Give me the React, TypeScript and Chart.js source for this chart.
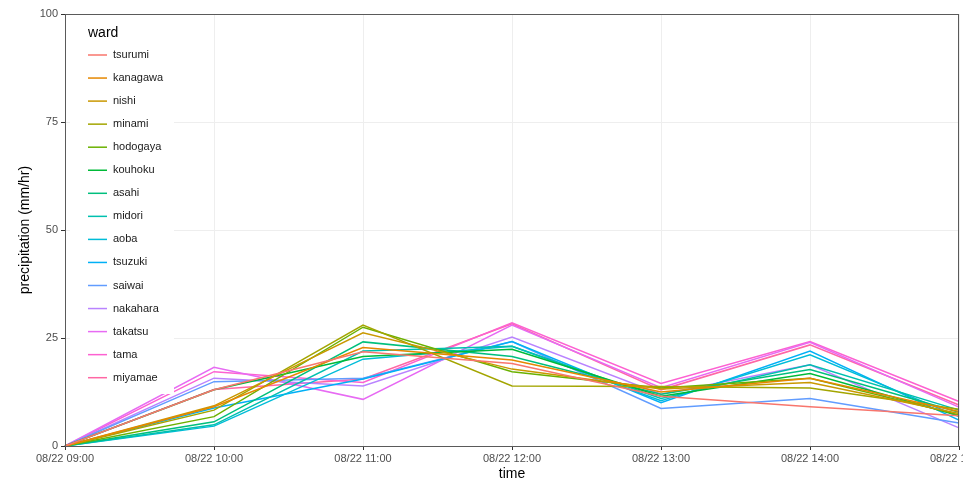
import React, { useEffect, useRef } from "react";
import { Chart, registerables } from "chart.js";

Chart.register(...registerables);

const times = [
  "08/22 09:00",
  "08/22 10:00",
  "08/22 11:00",
  "08/22 12:00",
  "08/22 13:00",
  "08/22 14:00",
  "08/22 15:00",
];

const wards = [
  "tsurumi", "kanagawa", "nishi", "minami", "hodogaya",
  "kouhoku", "asahi", "midori", "aoba", "tsuzuki",
  "saiwai", "nakahara", "takatsu", "tama", "miyamae",
];

const wardColors = [
  "#F8766D", "#E58700", "#C99800", "#A3A500", "#6BB100",
  "#00BA38", "#00BF7D", "#00C0AF", "#00BCD8", "#00B0F6",
  "#619CFF", "#B983FF", "#E76BF3", "#FD61D1", "#FF67A4",
];

// precipitation (mm/hr) per ward, one value per hour
const tsurumi = [0, 13.0, 21.8, 19.1, 11.5, 9.1, 7.0];
const kanagawa = [0, 9.1, 22.8, 19.9, 12.5, 15.7, 8.0];
const nishi = [0, 9.3, 26.2, 17.8, 13.2, 14.7, 7.5];
const minami = [0, 8.3, 28.0, 13.9, 13.8, 13.4, 8.5];
const hodogaya = [0, 6.8, 27.5, 17.2, 13.4, 15.7, 7.2];
const kouhoku = [0, 13.0, 20.7, 22.4, 11.5, 16.8, 7.0];
const asahi = [0, 5.6, 24.1, 20.7, 12.0, 17.7, 7.8];
const midori = [0, 4.9, 22.0, 23.1, 11.0, 18.8, 8.3];
const aoba = [0, 4.6, 20.1, 23.1, 10.5, 21.1, 6.8];
const tsuzuki = [0, 8.8, 15.5, 24.2, 10.0, 22.0, 6.0];
const saiwai = [0, 14.9, 15.7, 24.2, 8.7, 11.0, 5.3];
const nakahara = [0, 15.7, 13.9, 25.2, 12.0, 18.8, 4.2];
const takatsu = [0, 18.2, 10.8, 28.0, 13.5, 24.0, 9.0];
const tama = [0, 17.2, 14.7, 28.5, 14.5, 24.2, 10.3];
const miyamae = [0, 13.1, 15.5, 28.3, 13.0, 23.4, 9.5];

const wardValues = [
  tsurumi, kanagawa, nishi, minami, hodogaya,
  kouhoku, asahi, midori, aoba, tsuzuki,
  saiwai, nakahara, takatsu, tama, miyamae,
];

const yTicks = [0, 25, 50, 75, 100];

const FONT = "'Liberation Sans', Arial, Helvetica, sans-serif";

// Draws the panel frame, axis titles and the in-panel legend
const decorations = {
  id: "decorations",
  afterDraw(chart: any) {
    const { ctx, chartArea } = chart;
    const { left, right, top, bottom } = chartArea;
    ctx.save();

    // panel frame
    ctx.strokeStyle = "#5a5a5a";
    ctx.lineWidth = 1;
    ctx.strokeRect(left + 0.5, top + 0.5, right - left - 1, bottom - top);

    // legend box
    const lx = 70;
    const ly = 18;
    ctx.fillStyle = "#ffffff";
    ctx.fillRect(lx, ly, 104, 376);

    ctx.fillStyle = "#000000";
    ctx.font = `14px ${FONT}`;
    ctx.textBaseline = "middle";
    ctx.textAlign = "left";
    ctx.fillText("ward", 88, 33);

    ctx.font = `11px ${FONT}`;
    wards.forEach((name, i) => {
      const y = 55 + i * 23.05;
      ctx.strokeStyle = wardColors[i];
      ctx.lineWidth = 1.5;
      ctx.beginPath();
      ctx.moveTo(88, y);
      ctx.lineTo(107, y);
      ctx.stroke();
      ctx.fillStyle = "#1a1a1a";
      ctx.fillText(name, 113, y);
    });

    // axis titles
    ctx.fillStyle = "#000000";
    ctx.font = `14px ${FONT}`;
    ctx.textAlign = "center";
    ctx.fillText("time", (left + right) / 2, 474);

    ctx.translate(25, (top + bottom) / 2);
    ctx.rotate(-Math.PI / 2);
    ctx.fillText("precipitation (mm/hr)", 0, 0);
    ctx.restore();
  },
};

export default function App() {
  const canvasRef = useRef<HTMLCanvasElement | null>(null);

  useEffect(() => {
    document.body.style.margin = "0";
    const canvas = canvasRef.current;
    if (!canvas) return;

    const chart = new Chart(canvas, {
      type: "line",
      data: {
        labels: times,
        datasets: wards.map((name, i) => ({
          label: name,
          data: wardValues[i],
          borderColor: wardColors[i],
          backgroundColor: wardColors[i],
          borderWidth: 1.5,
          pointRadius: 0,
          tension: 0,
          fill: false,
        })),
      },
      options: {
        responsive: false,
        animation: false,
        layout: { padding: { top: 14, right: 4, left: 0, bottom: 0 } },
        plugins: {
          legend: { display: false },
          tooltip: { enabled: false },
        },
        scales: {
          x: {
            type: "category",
            offset: false,
            grid: {
              color: "#eeeeee",
              lineWidth: 1,
              drawTicks: true,
              tickLength: 4,
              tickColor: "#333333",
            },
            border: { color: "#333333", width: 1 },
            ticks: {
              autoSkip: false,
              maxRotation: 0,
              minRotation: 0,
              padding: 2,
              color: "#4d4d4d",
              font: { family: FONT, size: 11 },
            },
            afterFit(scale: any) {
              scale.height = 36;
              scale.paddingLeft = 0;
              scale.paddingRight = 0;
            },
          },
          y: {
            min: 0,
            max: 100,
            afterBuildTicks(scale: any) {
              scale.ticks = yTicks.map((v) => ({ value: v }));
            },
            grid: {
              color: "#eeeeee",
              lineWidth: 1,
              drawTicks: true,
              tickLength: 4,
              tickColor: "#333333",
            },
            border: { color: "#333333", width: 1 },
            ticks: {
              padding: 3,
              color: "#4d4d4d",
              font: { family: FONT, size: 11 },
            },
            afterFit(scale: any) {
              scale.width = 65;
              scale.paddingTop = 0;
              scale.paddingBottom = 0;
            },
          },
        },
      },
      plugins: [decorations],
    });

    return () => chart.destroy();
  }, []);

  return (
    <div style={{ width: 963, height: 482, background: "#ffffff" }}>
      <canvas ref={canvasRef} width={963} height={482} />
    </div>
  );
}
